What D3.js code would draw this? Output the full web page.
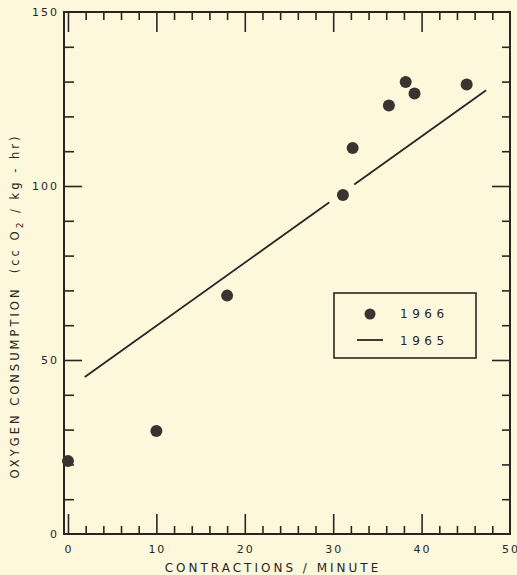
<!DOCTYPE html>
<html>
<head>
<meta charset="utf-8">
<script src="https://cdn.jsdelivr.net/npm/d3@7"></script>
<style>
  html, body { margin: 0; padding: 0; background: #fdf8dc; }
  svg { display: block; font-family: "DejaVu Sans", sans-serif; }
  .tick line { stroke: #2a2522; stroke-width: 1.6; }
</style>
</head>
<body>
<svg width="517" height="575"></svg>
<script>
// 1966 measurements
const rate66 = [0, 10, 18, 31.1, 32.2, 36.3, 38.2, 39.2, 45.1];
const oxygen66 = [21, 29.6, 68.5, 97.4, 110.9, 123.1, 129.9, 126.6, 129.2];
// 1965 regression line ends
const rate65 = [1.9, 47.3];
const oxygen65 = [45.1, 127.5];

const xMajor = [0, 10, 20, 30, 40, 50];
const yMajor = [0, 50, 100, 150];

const ink = "#2a2522";
const bg = "#fdf8dc";

const svg = d3.select("svg"),
  pl = 64, pr = 510, pt = 12, pb = 534;

const x = d3.scaleLinear().domain([-0.45, 50]).range([pl, pr]);
const y = d3.scaleLinear().domain([0, 150]).range([pb, pt]);

const xMinor = d3.range(2, 50, 2).filter(d => d % 10);
const yMinor = d3.range(10, 150, 10).filter(d => d % 50);

// ticks, all pointing inward
svg.append("g").attr("transform", `translate(0,${pb})`)
  .call(d3.axisBottom(x).tickValues(xMinor).tickSize(-8).tickFormat(""));
svg.append("g").attr("transform", `translate(0,${pb})`)
  .call(d3.axisBottom(x).tickValues(xMajor.filter(d => d < 50)).tickSize(-20).tickFormat(""));
svg.append("g").attr("transform", `translate(0,${pt})`)
  .call(d3.axisTop(x).tickValues(xMinor).tickSize(-8).tickFormat(""));
svg.append("g").attr("transform", `translate(0,${pt})`)
  .call(d3.axisTop(x).tickValues(xMajor.filter(d => d < 50)).tickSize(-20).tickFormat(""));
svg.append("g").attr("transform", `translate(${pl},0)`)
  .call(d3.axisLeft(y).tickValues(yMinor).tickSize(-10).tickFormat(""));
svg.append("g").attr("transform", `translate(${pl},0)`)
  .call(d3.axisLeft(y).tickValues(yMajor.slice(1, 3)).tickSize(-18).tickFormat(""));
svg.append("g").attr("transform", `translate(${pr},0)`)
  .call(d3.axisRight(y).tickValues(yMinor).tickSize(-8).tickFormat(""));
svg.append("g").attr("transform", `translate(${pr},0)`)
  .call(d3.axisRight(y).tickValues(yMajor.slice(1, 3)).tickSize(-18).tickFormat(""));
svg.selectAll(".domain").remove();

// tick labels (the last x label runs off the page edge, as in the original)
svg.append("g").selectAll("text").data(xMajor).join("text")
  .attr("x", d => x(d) + 1).attr("y", pb + 19)
  .attr("text-anchor", "middle")
  .attr("font-size", 11).attr("letter-spacing", 2).attr("fill", ink)
  .text(d => d);
svg.append("g").selectAll("text").data(yMajor).join("text")
  .attr("x", pl - 5).attr("y", d => y(d) + 4)
  .attr("text-anchor", "end")
  .attr("font-size", 11).attr("letter-spacing", 2).attr("fill", ink)
  .text(d => d);

// frame
svg.append("rect")
  .attr("x", pl).attr("y", pt)
  .attr("width", pr - pl).attr("height", pb - pt)
  .attr("fill", "none").attr("stroke", ink).attr("stroke-width", 2);

// axis titles
svg.append("text")
  .attr("x", 273).attr("y", 572)
  .attr("text-anchor", "middle")
  .attr("font-size", 12).attr("letter-spacing", 3).attr("fill", ink)
  .text("CONTRACTIONS / MINUTE");

const yt = svg.append("text")
  .attr("transform", "translate(19,306) rotate(-90)")
  .attr("text-anchor", "middle")
  .attr("font-size", 11.5).attr("letter-spacing", 3).attr("fill", ink);
yt.append("tspan").text("OXYGEN CONSUMPTION\u00a0\u00a0(cc O");
yt.append("tspan").attr("dy", 4).attr("font-size", 9).text("2");
yt.append("tspan").attr("dy", -4).text(" / kg - hr)");

// 1965 line
svg.append("line")
  .attr("x1", x(rate65[0])).attr("y1", y(oxygen65[0]))
  .attr("x2", x(rate65[1])).attr("y2", y(oxygen65[1]))
  .attr("stroke", ink).attr("stroke-width", 1.8);

// 1966 points, with a paper halo where they sit on the line
const pts = rate66.map((d, i) => ({x: d, y: oxygen66[i]}));
svg.append("g").selectAll("circle").data(pts.filter(d => d.x > 30 && d.x < 32)).join("circle")
  .attr("cx", d => x(d.x)).attr("cy", d => y(d.y)).attr("r", 15.5)
  .attr("fill", bg);
svg.append("g").selectAll("circle").data(pts).join("circle")
  .attr("cx", d => x(d.x)).attr("cy", d => y(d.y)).attr("r", 6)
  .attr("fill", "#3a3330");

// legend
const lg = svg.append("g").attr("transform", "translate(334,293)");
lg.append("rect").attr("width", 142).attr("height", 65)
  .attr("fill", bg).attr("stroke", ink).attr("stroke-width", 1.6);
lg.append("circle").attr("cx", 36).attr("cy", 21).attr("r", 5.5).attr("fill", "#3a3330");
lg.append("line").attr("x1", 23).attr("x2", 49).attr("y1", 47).attr("y2", 47)
  .attr("stroke", ink).attr("stroke-width", 1.8);
lg.selectAll("text.lab").data(["1966", "1965"]).join("text")
  .attr("x", 66).attr("y", (d, i) => 25 + i * 27)
  .attr("font-size", 12).attr("letter-spacing", 4.5).attr("fill", ink)
  .text(d => d);
</script>
</body>
</html>
